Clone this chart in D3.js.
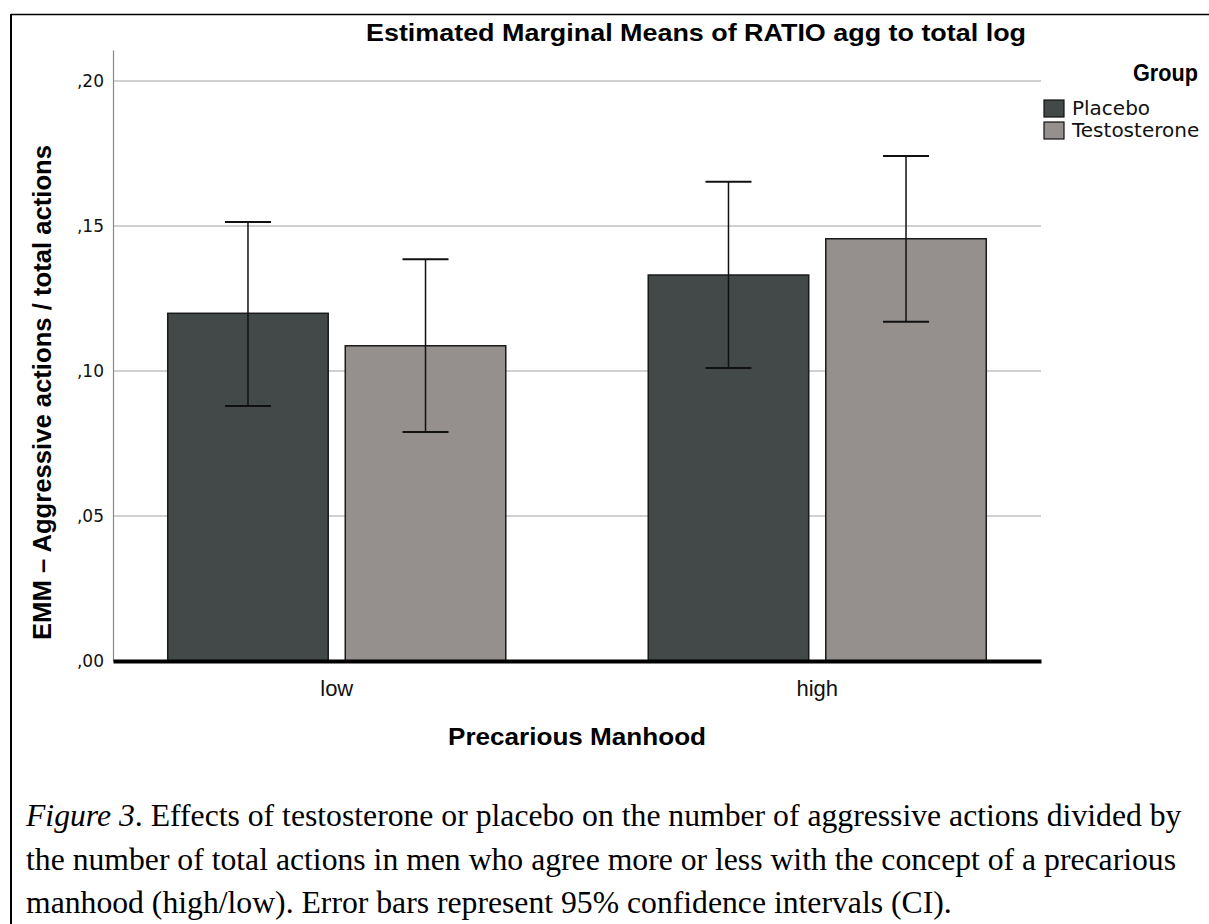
<!DOCTYPE html>
<html>
<head>
<meta charset="utf-8">
<script src="https://cdn.jsdelivr.net/npm/d3@7"></script>
<style>
  body { margin: 0; background: #fff; }
  svg { display: block; }
</style>
</head>
<body>
<div id="chart"></div>
<script>
// values
var categories = ["low", "high"];
var groups = ["Placebo", "Testosterone"];
var means = [[0.1199, 0.1087], [0.1331, 0.1456]];
var ciLow = [[0.0879, 0.0790], [0.1010, 0.1170]];
var ciHigh = [[0.1514, 0.1385], [0.1653, 0.1741]];
var yTicks = [0, 0.05, 0.10, 0.15, 0.20];
var colors = ["#434948", "#958f8e"];

var w = 1209, h = 924;
var plotLeft = 113, plotRight = 1041, plotTop = 50, plotBottom = 661;
var narrow = "Liberation Sans Narrow, Arial Narrow, Liberation Sans, sans-serif";

var svg = d3.select("#chart").append("svg")
    .attr("width", w)
    .attr("height", h);

// frame around the figure
svg.append("line").attr("x1", 11).attr("x2", 1209).attr("y1", 14.5).attr("y2", 14.5)
    .attr("stroke", "#000").attr("stroke-width", 1.5);
svg.append("line").attr("x1", 11).attr("x2", 11).attr("y1", 14).attr("y2", h)
    .attr("stroke", "#000").attr("stroke-width", 2);

// scales
var x = d3.scaleBand()
    .domain(categories)
    .range([plotLeft, plotRight])
    .paddingInner(0.2965)
    .paddingOuter(0.1139);
var xInner = d3.scaleBand()
    .domain(groups)
    .range([0, x.bandwidth()])
    .paddingInner(0.096);
var y = d3.scaleLinear()
    .domain([0, (plotBottom - plotTop) / 2900])
    .range([plotBottom, plotTop]);

// gridlines
svg.append("g").selectAll("line")
    .data(yTicks.filter(function(d) { return d > 0; }))
    .enter().append("line")
    .attr("x1", plotLeft).attr("x2", plotRight)
    .attr("y1", function(d) { return y(d); })
    .attr("y2", function(d) { return y(d); })
    .attr("stroke", "#d0d0d0")
    .attr("stroke-width", 2);

// y axis
var yAxis = d3.axisLeft(y)
    .tickValues(yTicks)
    .tickSize(0)
    .tickPadding(9)
    .tickFormat(function(d) { return d3.format(".2f")(d).replace("0.", ","); });
var gy = svg.append("g")
    .attr("transform", "translate(" + plotLeft + ",0)")
    .call(yAxis)
    .attr("font-family", "DejaVu Sans, Verdana, sans-serif")
    .attr("font-size", 17);
gy.select(".domain").attr("stroke", "#888").attr("stroke-width", 1.2);
gy.selectAll("text").attr("fill", "#111");

// bars
var cat = svg.append("g").selectAll("g")
    .data(categories)
    .enter().append("g")
    .attr("transform", function(d) { return "translate(" + x(d) + ",0)"; });

cat.selectAll("rect")
    .data(function(d, i) { return groups.map(function(g, j) { return {g: g, j: j, v: means[i][j]}; }); })
    .enter().append("rect")
    .attr("x", function(d) { return xInner(d.g); })
    .attr("y", function(d) { return y(d.v); })
    .attr("width", xInner.bandwidth())
    .attr("height", function(d) { return y(0) - y(d.v); })
    .attr("fill", function(d) { return colors[d.j]; })
    .attr("stroke", "#1a1a1a")
    .attr("stroke-width", 1.5);

// error bars
var capHalf = 23;
var err = cat.selectAll("g.err")
    .data(function(d, i) { return groups.map(function(g, j) { return {g: g, lo: ciLow[i][j], hi: ciHigh[i][j]}; }); })
    .enter().append("g")
    .attr("class", "err")
    .attr("transform", function(d) { return "translate(" + (xInner(d.g) + xInner.bandwidth() / 2) + ",0)"; });
err.append("line")
    .attr("y1", function(d) { return y(d.lo); })
    .attr("y2", function(d) { return y(d.hi); })
    .attr("stroke", "#111").attr("stroke-width", 1.5);
err.append("line")
    .attr("x1", -capHalf).attr("x2", capHalf)
    .attr("y1", function(d) { return y(d.hi); })
    .attr("y2", function(d) { return y(d.hi); })
    .attr("stroke", "#111").attr("stroke-width", 2);
err.append("line")
    .attr("x1", -capHalf).attr("x2", capHalf)
    .attr("y1", function(d) { return y(d.lo); })
    .attr("y2", function(d) { return y(d.lo); })
    .attr("stroke", "#111").attr("stroke-width", 2);

// x axis (thick baseline)
var gx = svg.append("g")
    .attr("transform", "translate(0," + plotBottom + ")")
    .call(d3.axisBottom(x).tickSize(0).tickPadding(19))
    .attr("font-family", narrow)
    .attr("font-size", 22);
gx.select(".domain").attr("stroke", "#000").attr("stroke-width", 4);
gx.selectAll("text").attr("fill", "#111");

// title
svg.append("text")
    .attr("x", 366).attr("y", 41)
    .attr("textLength", 660)
    .attr("lengthAdjust", "spacingAndGlyphs")
    .attr("font-family", narrow)
    .attr("font-weight", "bold")
    .attr("font-size", 24)
    .text("Estimated Marginal Means of RATIO agg to total log");

// axis titles
svg.append("text")
    .attr("x", 448).attr("y", 745)
    .attr("textLength", 258)
    .attr("lengthAdjust", "spacingAndGlyphs")
    .attr("font-family", narrow)
    .attr("font-weight", "bold")
    .attr("font-size", 24)
    .text("Precarious Manhood");
svg.append("text")
    .attr("transform", "translate(51,640) rotate(-90)")
    .attr("textLength", 495)
    .attr("lengthAdjust", "spacingAndGlyphs")
    .attr("font-family", narrow)
    .attr("font-weight", "bold")
    .attr("font-size", 25)
    .text("EMM \u2013 Aggressive actions / total actions");

// legend
svg.append("text")
    .attr("x", 1133).attr("y", 81)
    .attr("textLength", 65)
    .attr("lengthAdjust", "spacingAndGlyphs")
    .attr("font-family", narrow)
    .attr("font-weight", "bold")
    .attr("font-size", 24)
    .text("Group");
var leg = svg.append("g").selectAll("g")
    .data(groups)
    .enter().append("g")
    .attr("transform", function(d, i) { return "translate(1044," + (100 + i * 22) + ")"; });
leg.append("rect")
    .attr("width", 20).attr("height", 17)
    .attr("fill", function(d, i) { return colors[i]; })
    .attr("stroke", "#111").attr("stroke-width", 1.2);
leg.append("text")
    .attr("x", 28).attr("y", 15)
    .attr("font-family", "DejaVu Sans, Verdana, sans-serif")
    .attr("font-size", 20)
    .attr("fill", "#111")
    .text(function(d) { return d; });

// caption
var caption = svg.append("g")
    .attr("font-family", "Liberation Serif, Times New Roman, serif")
    .attr("font-size", 31.7)
    .attr("fill", "#000");
var line1 = caption.append("text").attr("x", 26).attr("y", 826);
line1.append("tspan").attr("font-style", "italic").text("Figure 3");
line1.append("tspan").text(". Effects of testosterone or placebo on the number of aggressive actions divided by");
caption.append("text").attr("x", 26).attr("y", 870)
    .text("the number of total actions in men who agree more or less with the concept of a precarious");
caption.append("text").attr("x", 26).attr("y", 913)
    .text("manhood (high/low). Error bars represent 95% confidence intervals (CI).");
</script>
</body>
</html>
